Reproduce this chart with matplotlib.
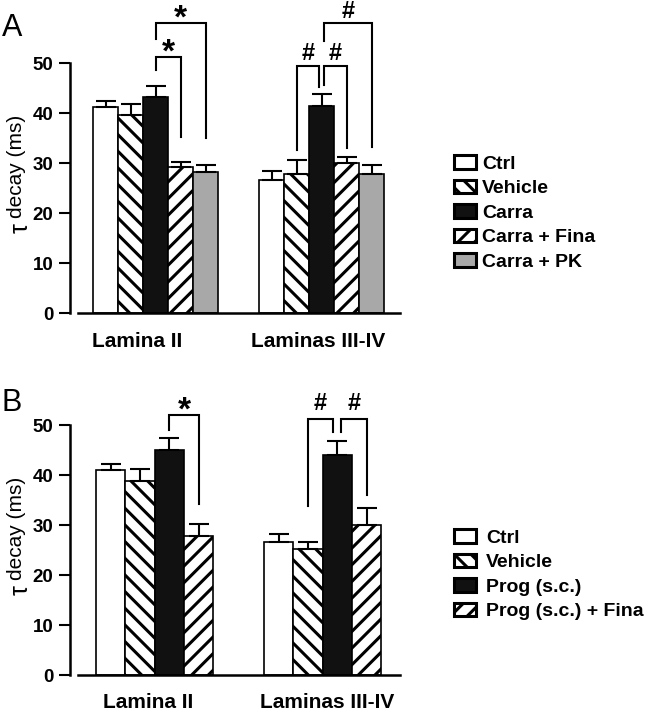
import matplotlib
matplotlib.use("Agg")
import matplotlib.pyplot as plt
from matplotlib.patches import Patch

plt.rcParams['font.family'] = ['Liberation Sans', 'DejaVu Sans']
plt.rcParams['hatch.linewidth'] = 2.2
plt.rcParams['hatch.color'] = 'black'

# ---------------- data ----------------
groups = ["Lamina II", "Laminas III-IV"]

labels_a = ["Ctrl", "Vehicle", "Carra", "Carra + Fina", "Carra + PK"]
mean_a_l2 = [41.2, 39.7, 43.3, 29.2, 28.3]
err_a_l2 = [1.1, 2.1, 2.2, 1.1, 1.3]
mean_a_l34 = [26.7, 27.9, 41.5, 30.0, 27.8]
err_a_l34 = [1.7, 2.8, 2.3, 1.3, 1.9]

labels_b = ["Ctrl", "Vehicle", "Prog (s.c.)", "Prog (s.c.) + Fina"]
mean_b_l2 = [41.1, 38.9, 45.0, 27.8]
err_b_l2 = [1.2, 2.4, 2.4, 2.4]
mean_b_l34 = [26.6, 25.3, 44.1, 30.0]
err_b_l34 = [1.7, 1.4, 2.8, 3.4]

yticks = [0, 10, 20, 30, 40, 50]

# styles
face_a = ['white', 'white', '#111111', 'white', '#a8a8a8']
hatch_a = ['', '\\\\', '', '//', '']
face_b = ['white', 'white', '#111111', 'white']
hatch_b = ['', '\\\\', '', '//']

W, H = 658, 720
fig = plt.figure(figsize=(W / 100, H / 100), dpi=100)


def px(x, y):
    return x / W, 1 - y / H


def ylabel(y_shift):
    # tau, then "decay (ms)" on a slightly different baseline
    fig.text(*px(28, 228 + y_shift), 'τ', rotation=90, rotation_mode='anchor',
             ha='center', va='baseline', fontsize=18)
    fig.text(*px(22, 218 + y_shift), 'decay (ms)', rotation=90,
             rotation_mode='anchor', ha='left', va='baseline', fontsize=15)


def make_axes(y0_px, ytop, unit_px, xmax):
    ax = fig.add_axes([70 / W, (H - y0_px) / H, 330 / W, ytop * 5 / H])
    ax.set_ylim(0, ytop)
    ax.set_xlim(0, xmax)
    for s in ['top', 'right']:
        ax.spines[s].set_visible(False)
    ax.spines['left'].set_bounds(0, 50)
    ax.spines['left'].set_linewidth(1.8)
    ax.spines['bottom'].set_linewidth(1.8)
    ax.spines['bottom'].set_bounds(8 / unit_px, xmax)
    ax.set_yticks(yticks)
    ax.set_yticklabels([str(t) for t in yticks], fontsize=13.5, fontweight='bold')
    ax.tick_params(axis='y', direction='out', length=8, width=1.5, pad=4)
    ax.tick_params(axis='x', length=0)
    return ax


def draw_bars(ax, starts, means_list, errs_list, faces, hatches):
    centers = []
    for start, means, errs in zip(starts, means_list, errs_list):
        cs = []
        for i, (m, e) in enumerate(zip(means, errs)):
            c = start + i + 0.5
            ax.bar(c, m, width=1.0, color=faces[i], edgecolor='black',
                   hatch=hatches[i], linewidth=1.2, zorder=2)
            ax.errorbar(c, m, yerr=[[0], [e]], fmt='none', ecolor='black',
                        elinewidth=1.5, capsize=7, capthick=1.5, zorder=3)
            cs.append(c)
        centers.append(cs)
    return centers


def bracket(ax, x1, x2, ytop, yb1, yb2, sym, off):
    ax.plot([x1, x1, x2, x2], [yb1, ytop, ytop, yb2], color='black',
            lw=1.5, solid_joinstyle='miter', zorder=4, clip_on=False)
    if sym == '*':
        ax.text((x1 + x2) / 2, ytop + off, '*', ha='center', va='center',
                fontsize=24, fontweight='bold', clip_on=False)
    else:
        ax.text((x1 + x2) / 2, ytop + off, '#', ha='center', va='center',
                fontsize=17, fontweight='bold', clip_on=False)


legend_kw = dict(loc='upper left', frameon=False,
                 prop={'weight': 'bold', 'size': 14}, handlelength=1.15,
                 handleheight=0.7, labelspacing=0.36,
                 borderpad=0, borderaxespad=0)

# ---------------- Panel A ----------------
ua = 25.0
axA = make_axes(313, 62, ua, 330 / ua)
ca = draw_bars(axA, [0.92, 7.56], [mean_a_l2, mean_a_l34],
               [err_a_l2, err_a_l34], face_a, hatch_a)
axA.set_xticks([2.68, 9.92])
axA.set_xticklabels(groups, fontsize=15, fontweight='bold')
axA.tick_params(axis='x', pad=14)
ylabel(0)

bracket(axA, ca[0][2], ca[0][3], 51.2, 48.6, 35.2, '*', 0.8)
bracket(axA, ca[0][2], ca[0][4], 58.0, 54.8, 35.0, '*', 0.8)
bracket(axA, ca[1][1], ca[1][2] - 0.1, 49.4, 32.6, 45.2, '#', 2.6)
bracket(axA, ca[1][2] + 0.1, ca[1][3], 49.4, 45.6, 33.0, '#', 2.6)
bracket(axA, ca[1][2] + 0.1, ca[1][4], 58.0, 54.5, 33.2, '#', 2.2)

handles_a = [Patch(facecolor=f, edgecolor='black', hatch=h, linewidth=2.2)
             for f, h in zip(face_a, hatch_a)]
fig.legend(handles_a, labels_a, bbox_to_anchor=px(454, 155),
           handletextpad=0.28, **legend_kw)

fig.text(*px(12, 28), 'A', fontsize=22, ha='center', va='center')

# ---------------- Panel B ----------------
ub = 29.3
axB = make_axes(675, 57, ub, 330 / ub)
cb = draw_bars(axB, [0.89, 6.62], [mean_b_l2, mean_b_l34],
               [err_b_l2, err_b_l34], face_b, hatch_b)
axB.set_xticks([2.66, 8.79])
axB.set_xticklabels(groups, fontsize=15, fontweight='bold')
axB.tick_params(axis='x', pad=13)
ylabel(362)

bracket(axB, cb[0][2], cb[0][3], 52.1, 49.0, 34.3, '*', 0.7)
bracket(axB, cb[1][1], cb[1][2] - 0.15, 51.3, 33.9, 48.7, '#', 2.9)
bracket(axB, cb[1][2] + 0.14, cb[1][3], 51.3, 48.7, 36.0, '#', 2.9)

handles_b = [Patch(facecolor=f, edgecolor='black', hatch=h, linewidth=2.2)
             for f, h in zip(face_b, hatch_b)]
fig.legend(handles_b, labels_b, bbox_to_anchor=px(454, 529),
           handletextpad=0.5, **legend_kw)

fig.text(*px(12, 403), 'B', fontsize=22, ha='center', va='center')

fig.savefig('out.png', dpi=100)
